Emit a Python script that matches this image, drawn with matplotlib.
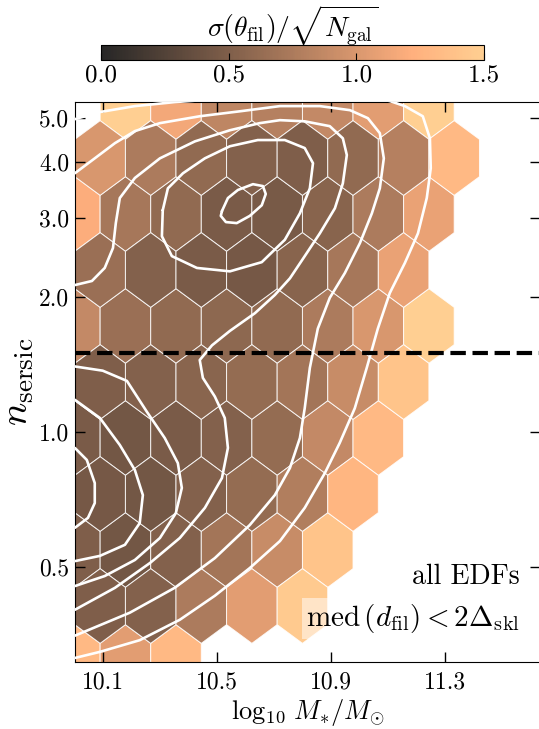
import numpy as np
import matplotlib
matplotlib.use("Agg")
import matplotlib.pyplot as plt
from matplotlib.ticker import NullLocator

plt.rcParams.update({
    "font.family": "serif",
    "font.serif": ["cmr10", "DejaVu Serif"],
    "mathtext.fontset": "cm",
    "axes.unicode_minus": False,
    "axes.formatter.use_mathtext": True,
})

# ---------------- hexbin cells (centres of the hexagonal grid) ----------------
x_lattice1 = [10.000, 10.178, 10.356, 10.533, 10.711, 10.889, 11.067, 11.244, 11.422, 11.600]
x_lattice2 = [10.089, 10.267, 10.444, 10.622, 10.800, 10.978, 11.156, 11.333, 11.511]
row_n = [5.433, 4.076, 3.060, 2.296, 1.723, 1.293, 0.970, 0.728, 0.546, 0.410, 0.3076]
N = None
row_values = [
    [N, 1.50, 1.15, 0.85, 0.80, 0.88, 1.05, 1.50, N, N],
    [1.00, 0.75, 0.60, 0.52, 0.50, 0.60, 0.80, 1.30, N],
    [1.20, 0.72, 0.60, 0.47, 0.46, 0.55, 0.75, 1.10, N, N],
    [0.65, 0.52, 0.47, 0.45, 0.55, 0.72, 1.10, N, N],
    [0.88, 0.65, 0.60, 0.58, 0.60, 0.75, 1.00, 1.50, N, N],
    [0.50, 0.52, 0.56, 0.62, 0.70, 0.90, 1.40, N, N],
    [0.47, 0.43, 0.47, 0.52, 0.62, 0.88, 1.30, N, N, N],
    [0.45, 0.43, 0.52, 0.62, 0.78, 1.27, N, N, N],
    [0.50, 0.43, 0.52, 0.70, 0.90, 1.40, N, N, N, N],
    [0.50, 0.52, 0.75, 1.05, 1.45, N, N, N, N],
    [1.30, 1.05, 1.30, N, N, N, N, N, N, N],
]
hex_extent_x = (10.0, 11.6)
hex_extent_n = (0.3076, 5.433)

# ---------------- density contours (log10 M*, n_sersic) ----------------
k1_x = [10.517, 10.538, 10.573, 10.626, 10.661, 10.671, 10.657, 10.615, 10.569, 10.531, 10.513, 10.517]
k1_n = [3.105, 3.32, 3.46, 3.565, 3.53, 3.39, 3.20, 3.03, 2.92, 2.935, 3.03, 3.105]

k2_x = [10.309, 10.327, 10.380, 10.457, 10.545, 10.643, 10.738, 10.808, 10.837, 10.826, 10.791,
        10.738, 10.657, 10.545, 10.429, 10.341, 10.306, 10.309]
k2_n = [3.12, 3.49, 3.77, 4.07, 4.33, 4.47, 4.47, 4.29, 3.97, 3.49, 3.07,
        2.68, 2.39, 2.28, 2.32, 2.465, 2.73, 3.12]

k3_x = [10.000, 10.060, 10.105, 10.134, 10.144, 10.158, 10.211, 10.299, 10.422, 10.545, 10.650, 10.721,
        10.808, 10.896, 10.942, 10.956, 10.942, 10.914, 10.861, 10.808, 10.756, 10.703, 10.633, 10.545,
        10.482, 10.439, 10.450, 10.492, 10.527, 10.538, 10.517, 10.457, 10.369, 10.264, 10.141, 10.000]
k3_n = [2.125, 2.17, 2.32, 2.57, 2.92, 3.32, 3.68, 4.07, 4.44, 4.70, 4.875, 4.95,
        4.92, 4.80, 4.51, 4.14, 3.58, 3.15, 2.77, 2.465, 2.20, 2.02, 1.84, 1.68,
        1.56, 1.447, 1.32, 1.20, 1.075, 0.922, 0.790, 0.678, 0.581, 0.511, 0.450, 0.402]

k4_x = [10.000, 10.098, 10.183, 10.253, 10.316, 10.362, 10.376, 10.355, 10.299, 10.211, 10.105, 10.000]
k4_n = [1.40, 1.37, 1.30, 1.11, 0.970, 0.853, 0.751, 0.660, 0.581, 0.519, 0.478, 0.454]

p2_x = [10.000, 10.088, 10.158, 10.211, 10.239, 10.228, 10.176, 10.088, 10.000]
p2_n = [1.18, 1.075, 0.936, 0.823, 0.724, 0.627, 0.561, 0.530, 0.516]

p1_x = [10.000, 10.042, 10.070, 10.070, 10.046, 10.000]
p1_n = [0.922, 0.867, 0.770, 0.695, 0.644, 0.612]

c_x = [10.000, 10.070, 10.141, 10.211, 10.299, 10.439, 10.580, 10.721, 10.861, 10.967, 11.030, 11.072,
       11.086, 11.072, 11.044, 11.002, 10.949, 10.896, 10.854, 10.826, 10.808, 10.791, 10.756, 10.703,
       10.615, 10.492, 10.351, 10.193, 10.000]
c_n = [3.77, 4.07, 4.40, 4.68, 4.875, 5.05, 5.18, 5.32, 5.32, 5.21, 5.00, 4.63,
       4.07, 3.49, 3.07, 2.635, 2.26, 1.99, 1.70, 1.39, 1.13, 0.970, 0.832, 0.724,
       0.621, 0.524, 0.450, 0.396, 0.352]

o1_x = [9.947, 10.000, 10.088, 10.211, 10.351, 10.492, 10.650, 10.791, 10.931, 11.037, 11.107, 11.160,
        11.223, 11.248, 11.251, 11.237, 11.206, 11.160, 11.107, 11.065, 11.026, 10.984, 10.931, 10.879,
        10.808, 10.721, 10.615, 10.492, 10.369, 10.228, 10.088, 10.000, 9.947]
o1_n = [4.875, 4.975, 5.16, 5.32, 5.43, 5.51, 5.77, 5.89, 5.77, 5.57, 5.46, 5.32,
        5.05, 4.51, 3.87, 3.32, 2.77, 2.38, 2.04, 1.70, 1.39, 1.13, 0.946, 0.811,
        0.678, 0.572, 0.498, 0.432, 0.382, 0.344, 0.324, 0.314, 0.309]

contours = [(k1_x, k1_n), (k2_x, k2_n), (k3_x, k3_n), (k4_x, k4_n),
            (p2_x, p2_n), (p1_x, p1_n), (c_x, c_n), (o1_x, o1_n)]

n_split = 1.5
x_ticks = [10.1, 10.5, 10.9, 11.3]
y_ticks = [0.5, 1.0, 2.0, 3.0, 4.0, 5.0]
cbar_ticks = [0.0, 0.5, 1.0, 1.5]

# ---------------- build the hexbin input ----------------
hx, hy, hc = [], [], []
for n_row, vals in zip(row_n, row_values):
    xs = x_lattice1 if len(vals) == len(x_lattice1) else x_lattice2
    for xv, v in zip(xs, vals):
        if v is not None:
            hx.append(xv)
            hy.append(n_row)
            hc.append(v)

W, H = 539, 729
fig = plt.figure(figsize=(W / 100, H / 100), dpi=100)
ax = fig.add_axes([74.85 / W, 1 - 662 / H, 465.15 / W, 560 / H])
cax = fig.add_axes([101 / W, 1 - 60 / H, 383 / W, 14.5 / H])

hb = ax.hexbin(hx, hy, C=hc, gridsize=9, yscale="log",
               extent=(hex_extent_x[0], hex_extent_x[1],
                       np.log10(hex_extent_n[0]), np.log10(hex_extent_n[1])),
               reduce_C_function=np.mean, cmap="copper", vmin=0, vmax=1.5,
               alpha=0.85, edgecolors="white", linewidths=0.7, zorder=1)

for cx, cn in contours:
    ax.plot(cx, cn, color="white", lw=1.9, solid_joinstyle="round",
            solid_capstyle="round", zorder=3)

ax.axhline(n_split, color="black", lw=3, ls="--", zorder=4)

ax.set_xlim(10.0, 11.635)
ax.set_ylim(hex_extent_n[0], hex_extent_n[1])
ax.set_yscale("log")
ax.set_xticks(x_ticks)
ax.set_xticklabels([f"{t:.1f}" for t in x_ticks])
ax.set_yticks(y_ticks)
ax.set_yticklabels([f"{t:.1f}" for t in y_ticks])
ax.yaxis.set_minor_locator(NullLocator())
ax.xaxis.set_minor_locator(NullLocator())
ax.tick_params(direction="in", top=True, right=True, length=7, width=1, labelsize=17)
ax.tick_params(axis="x", pad=7)
ax.tick_params(axis="y", pad=4)

ax.set_xlabel(r"$\log_{10}\,M_{*}/M_{\odot}$", fontsize=19, labelpad=2)
ax.set_ylabel(r"$n_{\rm sersic}$", fontsize=28, labelpad=2)

ax.text(0.957, 0.152, "all EDFs", transform=ax.transAxes, ha="right", va="center",
        fontsize=20, zorder=5)
ax.text(0.957, 0.078, r"$\mathrm{med}\,(d_{\rm fil}) < 2\Delta_{\rm skl}$", transform=ax.transAxes,
        ha="right", va="center", fontsize=21, zorder=5,
        bbox=dict(facecolor="white", alpha=0.5, edgecolor="none", pad=3))

cbar = fig.colorbar(hb, cax=cax, orientation="horizontal")
cbar.set_ticks(cbar_ticks)
cbar.set_ticklabels([f"{t:.1f}" for t in cbar_ticks])
cbar.ax.tick_params(labelsize=18, direction="in", length=5, width=0.8)
cbar.ax.xaxis.set_minor_locator(NullLocator())
cbar.set_label(r"$\sigma(\theta_{\rm fil})/\sqrt{N_{\rm gal}}$", fontsize=20, labelpad=6)
cax.xaxis.set_label_position("top")

fig.savefig("out.png", dpi=100)
